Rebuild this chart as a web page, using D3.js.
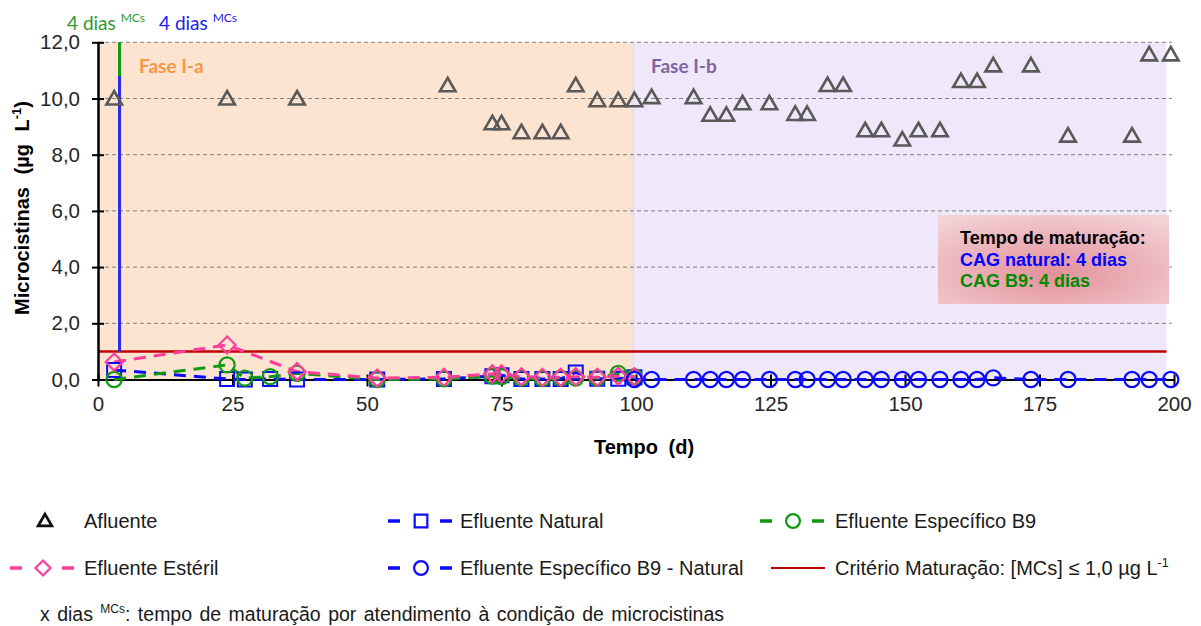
<!DOCTYPE html>
<html>
<head>
<meta charset="utf-8">
<script src="https://cdn.jsdelivr.net/npm/d3@7"></script>
<style>
  body { margin: 0; background: #fff; }
  svg { display: block; }
  text { font-family: "Liberation Sans", Arial, sans-serif; }
</style>
</head>
<body>
<svg id="chart" width="1201" height="626"></svg>
<script>
// ---- Data -------------------------------------------------------------
// Afluente (influent) microcystin concentration, µg/L
const afluenteDias = [3, 24, 37, 65, 73.3, 75, 78.7, 82.6, 86, 88.8, 92.8, 96.7, 99.7, 102.9,
  110.7, 113.8, 116.8, 119.8, 124.8, 129.6, 131.8, 135.6, 138.5, 142.6, 145.6, 149.5, 152.5,
  156.5, 160.4, 163.4, 166.4, 173.4, 180.3, 192.2, 195.4, 199.4];
const afluenteMCs = [10.0, 10.0, 10.0, 10.47, 9.12, 9.12, 8.8, 8.8, 8.8, 10.47, 9.94, 9.94, 9.94, 10.05,
  10.05, 9.42, 9.42, 9.83, 9.83, 9.45, 9.45, 10.48, 10.48, 8.87, 8.87, 8.54, 8.87,
  8.87, 10.62, 10.62, 11.18, 11.18, 8.68, 8.68, 11.57, 11.57];

// Effluents during phase I-a
const efluenteDias = [3, 24, 27.3, 32, 37, 51.9, 64.3, 73.3, 75, 78.7, 82.6, 86, 88.8, 92.8, 96.7, 99.7];
const efluenteNatural = [0.34, 0.02, 0.0, 0.02, 0.0, 0.0, 0.02, 0.12, 0.15, 0.02, 0.02, 0.02, 0.25, 0.03, 0.03, 0.08];
const efluenteB9 = [0.0, 0.52, 0.05, 0.1, 0.22, 0.0, 0.02, 0.12, 0.1, 0.05, 0.03, 0.05, 0.05, 0.05, 0.22, 0.1];
const efluenteEsteril = [0.62, 1.23, null, null, 0.28, 0.05, 0.08, 0.2, 0.2, 0.1, 0.08, 0.08, 0.1, 0.08, 0.12, 0.1];

// Effluent B9 - Natural during phase I-b
const b9NaturalDias = [99.7, 102.9, 110.7, 113.8, 116.8, 119.8, 124.8, 129.6, 131.8, 135.6, 138.5,
  142.6, 145.6, 149.5, 152.5, 156.5, 160.4, 163.4, 166.4, 173.4, 180.3, 192.2, 195.4, 199.4];
const b9NaturalMCs = [0, 0, 0, 0, 0, 0, 0, 0, 0, 0, 0,
  0, 0, 0, 0, 0, 0, 0, 0.06, 0, 0, 0, 0, 0];

// Phases (days) and maturation criterion
const faseNomes = ["Fase I-a", "Fase I-b"];
const faseInicio = [0, 99.1];
const faseFim = [99.7, 198.6];
const criterioMCs = 1.0;
const maturacaoDias = 4;             // both CAG natural and CAG B9
const maturacaoTopoB9 = 12.0;        // extent of the green marker line
const maturacaoTopoNatural = 10.8;   // extent of the blue marker line

const xTicks = [0, 25, 50, 75, 100, 125, 150, 175, 200];
const yTicks = [0, 2, 4, 6, 8, 10, 12];

// ---- Styles -----------------------------------------------------------
const BLUE = "#0a0aff", GREEN = "#0f9a0f", PINK = "#ff3d9a", RED = "#c00000", GRAY = "#595959";
const DASH = "12,8";

const svg = d3.select("#chart");
const x = d3.scaleLinear().domain([0, 200]).range([98, 1174]);
const y = d3.scaleLinear().domain([0, 12]).range([379.5, 42.3]);
const fmt = d => d3.format(".1f")(d).replace(".", ",");

// Diamond drawn as a square turned 45 degrees
const diamondPath = h => `M0,${-h}L${h},0L0,${h}L${-h},0Z`;

// ---- Phase backgrounds ------------------------------------------------
svg.append("rect")
  .attr("x", x(faseInicio[0])).attr("y", y(12))
  .attr("width", x(faseFim[0]) - x(faseInicio[0])).attr("height", y(0) - y(12))
  .attr("fill", "#fde4d1");
svg.append("rect")
  .attr("x", x(faseInicio[1])).attr("y", y(12))
  .attr("width", x(faseFim[1]) - x(faseInicio[1])).attr("height", y(0) - y(12))
  .attr("fill", "rgb(228,217,247)").attr("opacity", 0.6);

// ---- Gridlines --------------------------------------------------------
svg.append("g").selectAll("line").data(yTicks.filter(d => d > 0)).join("line")
  .attr("x1", x(0)).attr("x2", x(199.6))
  .attr("y1", d => y(d)).attr("y2", d => y(d))
  .attr("stroke", "#7f7f7f").attr("stroke-width", 1).attr("stroke-dasharray", "4,3");

// ---- Phase labels -----------------------------------------------------
const faseCores = ["#f79646", "#8064a2"];
svg.append("g").selectAll("text").data(faseNomes).join("text")
  .attr("x", (d, i) => i === 0 ? 139 : 651).attr("y", 73)
  .attr("fill", (d, i) => faseCores[i])
  .style("font-family", "Lato, 'Open Sans', sans-serif").style("font-weight", "bold")
  .style("font-size", "19px").text(d => d);

// ---- Maturation box ---------------------------------------------------
const defs = svg.append("defs");
const grad = defs.append("radialGradient").attr("id", "boxGrad")
  .attr("cx", "50%").attr("cy", "65%").attr("r", "75%");
grad.append("stop").attr("offset", "0%").attr("stop-color", "#e3909a");
grad.append("stop").attr("offset", "100%").attr("stop-color", "#f3d2d6");
svg.append("rect").attr("x", 938).attr("y", 215).attr("width", 231).attr("height", 89)
  .attr("fill", "url(#boxGrad)");
const boxLines = [
  { t: "Tempo de maturação:", c: "#000" },
  { t: "CAG natural: 4 dias", c: "#0000ff" },
  { t: "CAG B9: 4 dias", c: "#008a00" }
];
svg.append("g").selectAll("text").data(boxLines).join("text")
  .attr("x", 960).attr("y", (d, i) => 244 + i * 21.5)
  .attr("fill", d => d.c).style("font-weight", "bold").style("font-size", "18px")
  .text(d => d.t);

// ---- Criterion line ---------------------------------------------------
svg.append("line").attr("x1", x(0)).attr("x2", x(198.6))
  .attr("y1", y(criterioMCs)).attr("y2", y(criterioMCs))
  .attr("stroke", RED).attr("stroke-width", 2.5);

// ---- Axes -------------------------------------------------------------
const xAxis = svg.append("g").attr("transform", `translate(0,${y(0)})`)
  .call(d3.axisBottom(x).tickValues(xTicks).tickSize(0).tickPadding(31).tickFormat(d3.format("d")));
xAxis.select(".domain").attr("stroke", "#000").attr("stroke-width", 2);
xAxis.selectAll(".tick line").attr("y1", -5).attr("y2", 7).attr("stroke", "#000").attr("stroke-width", 2);
xAxis.selectAll(".tick text").style("font-size", "20.5px").attr("fill", "#262626")
  .style("font-family", "'Liberation Sans', Arial, sans-serif").attr("dy", "0");

const yAxis = svg.append("g").attr("transform", `translate(${x(0)},0)`)
  .call(d3.axisLeft(y).tickValues(yTicks).tickSize(0).tickPadding(18).tickFormat(fmt));
yAxis.select(".domain").attr("stroke", "#000").attr("stroke-width", 2.5);
yAxis.selectAll(".tick line").attr("x1", -6).attr("x2", 6).attr("stroke", "#000").attr("stroke-width", 2);
yAxis.selectAll(".tick text").style("font-size", "20.5px").attr("fill", "#262626")
  .style("font-family", "'Liberation Sans', Arial, sans-serif");

// Axis titles
svg.append("text").attr("x", 644).attr("y", 454).attr("text-anchor", "middle")
  .style("font-weight", "bold").style("font-size", "20px").attr("word-spacing", "5px")
  .text("Tempo (d)");
const yTitle = svg.append("text").attr("transform", "translate(29,208) rotate(-90)")
  .attr("text-anchor", "middle").style("font-weight", "bold").style("font-size", "20px")
  .attr("word-spacing", "7px");
yTitle.append("tspan").text("Microcistinas (µg L");
yTitle.append("tspan").attr("dy", -8).style("font-size", "13px").text("-1");
yTitle.append("tspan").attr("dy", 8).text(")");

// ---- Maturation markers at day 4 ---------------------------------------
svg.append("line").attr("x1", x(maturacaoDias)).attr("x2", x(maturacaoDias))
  .attr("y1", y(criterioMCs)).attr("y2", y(maturacaoTopoB9))
  .attr("stroke", GREEN).attr("stroke-width", 3);
svg.append("line").attr("x1", x(maturacaoDias)).attr("x2", x(maturacaoDias))
  .attr("y1", y(criterioMCs)).attr("y2", y(maturacaoTopoNatural))
  .attr("stroke", "#2b2bf0").attr("stroke-width", 3);

const matLabels = [{ x: 67, c: "#2e9a2e" }, { x: 159, c: "#2020ee" }];
matLabels.forEach(m => {
  const t = svg.append("text").attr("x", m.x).attr("y", 30).attr("fill", m.c)
    .style("font-family", "Lato, 'Open Sans', sans-serif").style("font-size", "19px");
  t.append("tspan").text(`${maturacaoDias} dias `);
  t.append("tspan").attr("dy", -8).style("font-size", "12px").text("MCs");
});

// ---- Series -----------------------------------------------------------
const line = d3.line().x(d => x(d[0])).y(d => y(d[1]));
function pts(days, vals) { return days.map((d, i) => [d, vals[i]]).filter(p => p[1] != null); }

const efNat = pts(efluenteDias, efluenteNatural);
const efB9 = pts(efluenteDias, efluenteB9);
const efEst = pts(efluenteDias, efluenteEsteril);
const b9Nat = pts(b9NaturalDias, b9NaturalMCs);

const seriesLines = [
  { data: efNat, c: BLUE }, { data: efB9, c: GREEN },
  { data: b9Nat, c: BLUE }, { data: efEst, c: PINK }
];
svg.append("g").selectAll("path").data(seriesLines).join("path")
  .attr("d", d => line(d.data)).attr("fill", "none")
  .attr("stroke", d => d.c).attr("stroke-width", 3).attr("stroke-dasharray", DASH);

// Marker helpers
const sq = () => d3.symbol().type(d3.symbolSquare).size(196)();
const ci = () => d3.symbol().type(d3.symbolCircle).size(180)();
const di = () => diamondPath(8.5);
const tr = () => d3.symbol().type(d3.symbolTriangle).size(105)();

function markers(data, gen, color, sw, dy = 0) {
  svg.append("g").selectAll("path").data(data).join("path")
    .attr("transform", d => `translate(${x(d[0])},${y(d[1]) + dy})`)
    .attr("d", gen()).attr("fill", "none").attr("stroke", color).attr("stroke-width", sw);
}
markers(efNat, sq, BLUE, 2);
markers(efB9, ci, GREEN, 2.2);
markers(efEst, di, PINK, 2.2);
markers(b9Nat, ci, BLUE, 2.2);
markers(pts(afluenteDias, afluenteMCs), tr, GRAY, 2.6, 1.5);

// ---- Legend -----------------------------------------------------------
const legend = svg.append("g").style("font-size", "20px").attr("fill", "#1a1a1a");
const legendItems = [
  { x: 45, y: 521, type: "tri", c: "#111", label: "Afluente", tx: 84 },
  { x: 421, y: 521, type: "sq", c: BLUE, label: "Efluente Natural", tx: 460 },
  { x: 793, y: 521, type: "ci", c: GREEN, label: "Efluente Específico B9", tx: 835 },
  { x: 43, y: 568, type: "di", c: PINK, label: "Efluente Estéril", tx: 84 },
  { x: 421, y: 568, type: "ci", c: BLUE, label: "Efluente Específico B9 - Natural", tx: 460 },
  { x: 798, y: 568, type: "line", c: RED, label: "Critério Maturação: [MCs] ≤ 1,0 µg L", tx: 835, sup: "-1" }
];
legendItems.forEach(it => {
  const g = legend.append("g");
  if (it.type === "line") {
    g.append("line").attr("x1", it.x - 27).attr("x2", it.x + 27)
      .attr("y1", it.y).attr("y2", it.y).attr("stroke", it.c).attr("stroke-width", 2);
  } else if (it.type !== "tri") {
    [[-33, -21], [19, 31]].forEach(([a, b]) => {
      g.append("line").attr("x1", it.x + a).attr("x2", it.x + b)
        .attr("y1", it.y).attr("y2", it.y).attr("stroke", it.c).attr("stroke-width", 3.5);
    });
    const d = it.type === "sq" ? d3.symbol().type(d3.symbolSquare).size(160)()
      : it.type === "ci" ? d3.symbol().type(d3.symbolCircle).size(150)()
      : diamondPath(7.5);
    g.append("path").attr("transform", `translate(${it.x},${it.y})`).attr("d", d)
      .attr("fill", "none").attr("stroke", it.c).attr("stroke-width", 2.2);
  } else {
    g.append("path").attr("transform", `translate(${it.x},${it.y + 1})`)
      .attr("d", d3.symbol().type(d3.symbolTriangle).size(80)())
      .attr("fill", "none").attr("stroke", it.c).attr("stroke-width", 2.8);
  }
  const t = g.append("text").attr("x", it.tx).attr("y", it.y + 7).text(it.label);
  if (it.sup) t.append("tspan").attr("dy", -8).style("font-size", "12.5px").text(it.sup);
});

const nota = svg.append("text").attr("x", 40).attr("y", 621).style("font-size", "19.5px")
  .attr("fill", "#1a1a1a").attr("word-spacing", "2px");
nota.append("tspan").text("x dias ");
nota.append("tspan").attr("dy", -8).style("font-size", "12px").text("MCs");
nota.append("tspan").attr("dy", 8).text(": tempo de maturação por atendimento à condição de microcistinas");
</script>
</body>
</html>
